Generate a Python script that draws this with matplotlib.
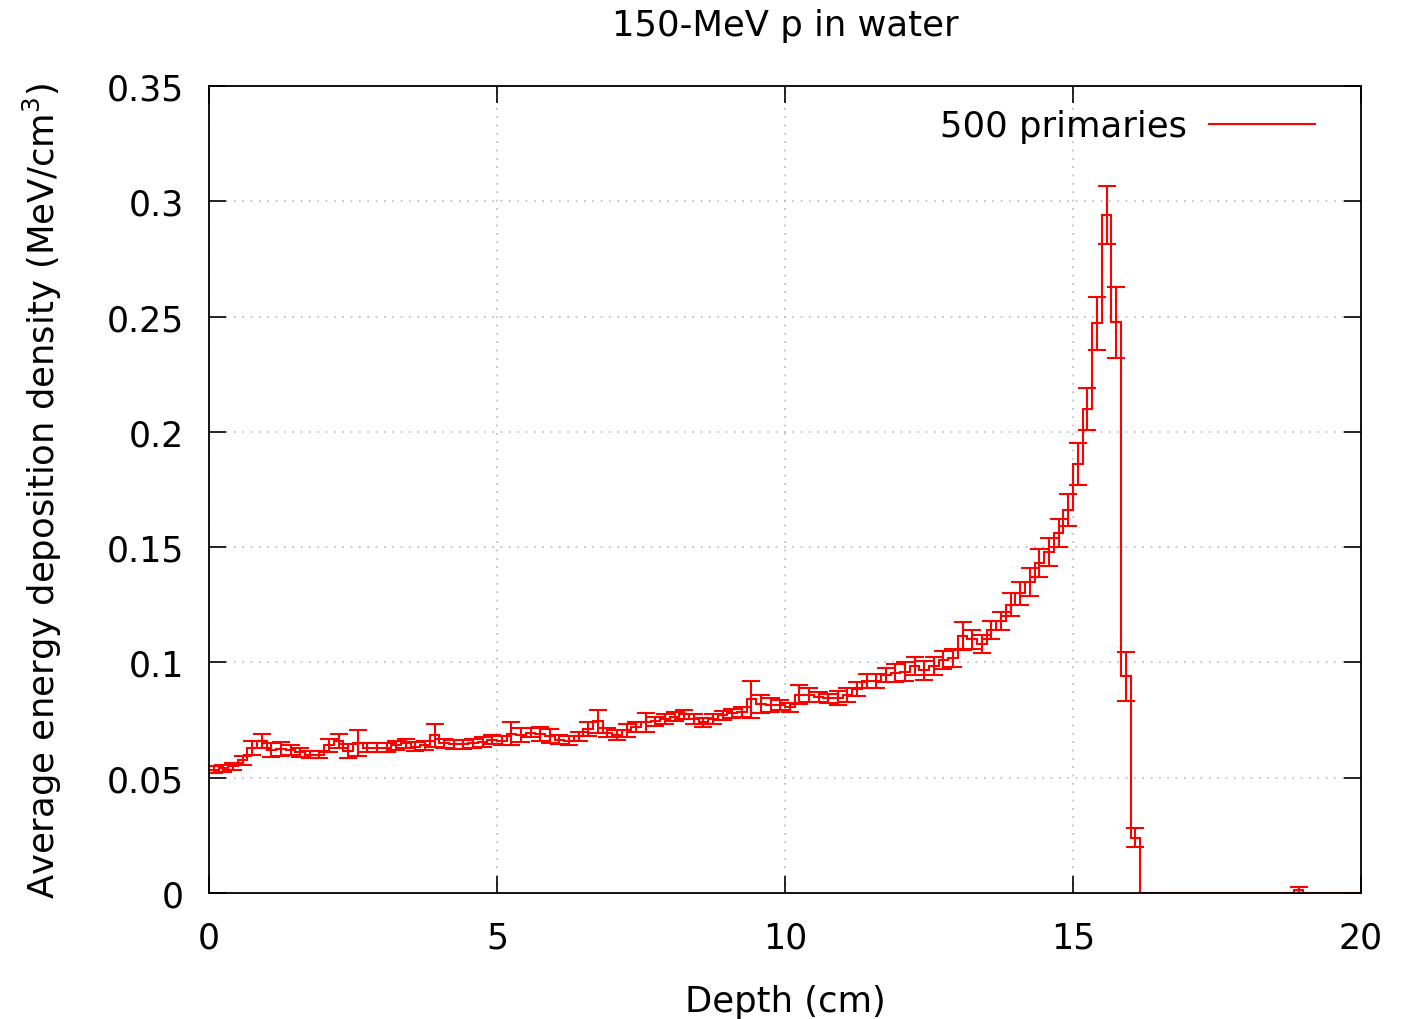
import numpy as np
import matplotlib
matplotlib.use("Agg")
import matplotlib.pyplot as plt
from matplotlib.lines import Line2D

# ---- data (bin width 1/6 cm, 120 bins over 0-20 cm) ----
bin_edges_cm = np.arange(121) / 6.0
dose = [
    0.0535, 0.0540, 0.0550, 0.0575, 0.0630, 0.0660, 0.0620, 0.0625, 0.0620, 0.0610,
    0.0600, 0.0600, 0.0640, 0.0660, 0.0615, 0.0650, 0.0630, 0.0630, 0.0630, 0.0640,
    0.0650, 0.0635, 0.0640, 0.0685, 0.0650, 0.0645, 0.0645, 0.0650, 0.0655, 0.0665,
    0.0660, 0.0690, 0.0685, 0.0695, 0.0690, 0.0680, 0.0665, 0.0660, 0.0680, 0.0710,
    0.0745, 0.0695, 0.0685, 0.0705, 0.0720, 0.0740, 0.0745, 0.0755, 0.0765, 0.0775,
    0.0755, 0.0740, 0.0755, 0.0770, 0.0780, 0.0785, 0.0840, 0.0820, 0.0815, 0.0815,
    0.0805, 0.0860, 0.0860, 0.0850, 0.0845, 0.0845, 0.0860, 0.0885, 0.0920, 0.0920,
    0.0945, 0.0955, 0.0960, 0.0985, 0.0965, 0.0985, 0.1010, 0.1020, 0.1115, 0.1100,
    0.1080, 0.1140, 0.1180, 0.1250, 0.1300, 0.1350, 0.1430, 0.1480, 0.1560, 0.1660,
    0.1860, 0.2100, 0.2470, 0.2940, 0.2475, 0.0940, 0.0240, 0.0, 0.0, 0.0,
    0.0, 0.0, 0.0, 0.0, 0.0, 0.0, 0.0, 0.0, 0.0, 0.0,
    0.0, 0.0, 0.0, 0.0012, 0.0, 0.0, 0.0, 0.0, 0.0, 0.0,
]
dose_err = [
    0.0015, 0.0015, 0.0015, 0.0020, 0.0030, 0.0030, 0.0030, 0.0030, 0.0020, 0.0020,
    0.0015, 0.0015, 0.0030, 0.0030, 0.0030, 0.0055, 0.0020, 0.0020, 0.0020, 0.0020,
    0.0020, 0.0020, 0.0020, 0.0050, 0.0020, 0.0020, 0.0020, 0.0020, 0.0020, 0.0020,
    0.0020, 0.0050, 0.0030, 0.0020, 0.0030, 0.0030, 0.0020, 0.0020, 0.0020, 0.0030,
    0.0050, 0.0020, 0.0020, 0.0030, 0.0020, 0.0040, 0.0020, 0.0020, 0.0020, 0.0020,
    0.0020, 0.0020, 0.0020, 0.0020, 0.0020, 0.0020, 0.0080, 0.0040, 0.0030, 0.0020,
    0.0020, 0.0040, 0.0030, 0.0020, 0.0020, 0.0030, 0.0030, 0.0030, 0.0030, 0.0030,
    0.0030, 0.0040, 0.0040, 0.0040, 0.0040, 0.0040, 0.0040, 0.0040, 0.0060, 0.0040,
    0.0040, 0.0040, 0.0040, 0.0050, 0.0050, 0.0060, 0.0060, 0.0060, 0.0060, 0.0070,
    0.0090, 0.0090, 0.0115, 0.0125, 0.0155, 0.0107, 0.0040, 0.0, 0.0, 0.0,
    0.0, 0.0, 0.0, 0.0, 0.0, 0.0, 0.0, 0.0, 0.0, 0.0,
    0.0, 0.0, 0.0, 0.0012, 0.0, 0.0, 0.0, 0.0, 0.0, 0.0,
]
x_ticks = [0, 5, 10, 15, 20]
y_ticks = [0, 0.05, 0.1, 0.15, 0.2, 0.25, 0.3, 0.35]
y_tick_labels = ["0", "0.05", "0.1", "0.15", "0.2", "0.25", "0.3", "0.35"]
series_label = "500 primaries"
title_text = "150-MeV p in water"
x_label = "Depth (cm)"
y_label = "Average energy deposition density (MeV/cm$^3$)"

dose = np.array(dose)
dose_err = np.array(dose_err)
centers = 0.5 * (bin_edges_cm[:-1] + bin_edges_cm[1:])

plt.rcParams['font.family'] = ['DejaVu Sans']
plt.rcParams['mathtext.default'] = 'regular'

fig = plt.figure(figsize=(14.12, 10.20), dpi=100)
ax = fig.add_axes([209/1412, 1 - 894/1020, (1361-209)/1412, (894-87)/1020])

red = '#ff0000'
ax.stairs(dose, bin_edges_cm, baseline=None, color=red, lw=1.5, zorder=2)
m = dose_err > 0
ax.errorbar(centers[m], dose[m], yerr=dose_err[m], fmt='none', ecolor=red,
            elinewidth=1.5, capsize=6.5, capthick=1.5, zorder=2)

ax.set_xlim(0, 20)
ax.set_ylim(0, 0.35)
ax.set_xticks(x_ticks)
ax.set_xticklabels([str(t) for t in x_ticks])
ax.set_yticks(y_ticks)
ax.set_yticklabels(y_tick_labels)

ax.grid(True, color='#b8b8b8', linestyle=(0, (1, 4)), linewidth=1.2, zorder=1)
ax.set_axisbelow(True)
ax.tick_params(direction='in', length=12, width=1.2, top=True, right=True,
               labelsize=25, color='black')
ax.tick_params(axis='x', pad=20)
ax.tick_params(axis='y', pad=18)
for s in ax.spines.values():
    s.set_linewidth(1.3)
    s.set_zorder(3)

ax.set_title(title_text, fontsize=25.5, pad=37)
ax.set_xlabel(x_label, fontsize=25.5, labelpad=21)
ax.set_ylabel(y_label, fontsize=25.5, labelpad=31)

proxy = Line2D([], [], color=red, lw=1.5)
ax.legend([proxy], [series_label], loc='upper right', frameon=False,
          markerfirst=False, fontsize=25.5, handlelength=3.0,
          bbox_to_anchor=(1 - 32/1152, 1 - 9/807), borderaxespad=0,
          handletextpad=0.6)

fig.savefig('out.png', dpi=100)
